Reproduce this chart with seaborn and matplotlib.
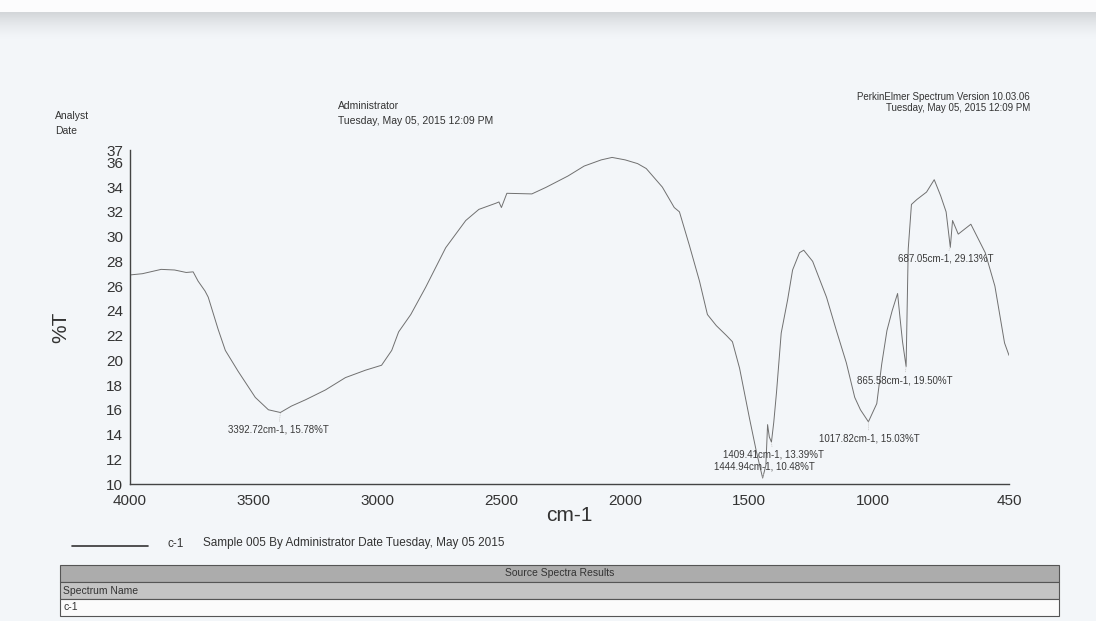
import matplotlib
matplotlib.use("Agg")
import matplotlib.pyplot as plt
from matplotlib.patches import Rectangle
from matplotlib.colors import to_rgb
import seaborn as sns
import pandas as pd
import numpy as np

# spectrum (cm-1, %T)
wavenumber = [
    4000, 3950, 3874, 3820, 3773, 3745, 3725, 3697, 3684, 3644, 3615, 3563,
    3494, 3441, 3392.72, 3348, 3292, 3211, 3130, 3049, 2984, 2943, 2915, 2866,
    2806, 2725, 2644, 2591, 2522, 2510, 2500, 2478, 2377, 2320, 2231, 2166,
    2097, 2053, 2000, 1950, 1915, 1850, 1802, 1781, 1741, 1700, 1668, 1632,
    1591, 1567, 1538, 1498, 1470, 1444.94, 1432, 1425, 1418, 1409.41, 1400,
    1389, 1370, 1344, 1324, 1296, 1279, 1243, 1187, 1147, 1107, 1073, 1050,
    1017.82, 984, 964, 943, 922, 900, 890, 880, 865.58, 857, 844, 822, 783,
    752, 726, 704, 687.05, 678, 655, 604, 546, 507, 468, 450,
]
transmittance = [
    26.9, 27.0, 27.35, 27.3, 27.1, 27.15, 26.4, 25.6, 25.1, 22.5, 20.8, 19.1,
    17.0, 16.0, 15.78, 16.3, 16.8, 17.6, 18.6, 19.2, 19.6, 20.8, 22.3, 23.7,
    25.9, 29.1, 31.3, 32.2, 32.7, 32.8, 32.35, 33.5, 33.45, 33.98, 34.9, 35.7,
    36.2, 36.4, 36.2, 35.9, 35.5, 34.0, 32.35, 32.0, 29.3, 26.4, 23.7, 22.8,
    22.0, 21.5, 19.35, 15.3, 12.6, 10.48, 11.5, 14.8, 13.8, 13.39, 15.0,
    17.4, 22.2, 24.9, 27.3, 28.7, 28.9, 28.0, 25.1, 22.4, 19.8, 17.0, 16.0,
    15.03, 16.5, 19.7, 22.4, 24.0, 25.4, 23.4, 21.5, 19.50, 29.0, 32.6, 33.0, 33.6,
    34.6, 33.3, 32.0, 29.13, 31.3, 30.2, 31.0, 28.7, 26.0, 21.4, 20.4,
]

# peak labels: (peak wn, peak %T, label left wn, label %T)
peak_wn = [3392.72, 1409.41, 1444.94, 1017.82, 865.58, 687.05]
peak_t = [15.78, 13.39, 10.48, 15.03, 19.50, 29.13]
label_wn = [3603, 1607, 1640, 1219, 1065, 899]
label_t = [14.4, 12.35, 11.45, 13.7, 18.4, 28.2]

x_ticks = [4000, 3500, 3000, 2500, 2000, 1500, 1000, 450]
y_ticks = [10, 12, 14, 16, 18, 20, 22, 24, 26, 28, 30, 32, 34, 36, 37]

W, H = 1096, 621

sns.set_style("white")
plt.rcParams["font.family"] = ["Liberation Sans", "DejaVu Sans"]

paper = "#f3f6f9"
fig = plt.figure(figsize=(W / 100, H / 100), dpi=100, facecolor=paper)

# scanner shadow along the top edge: white strip, then a soft grey fade
band = 40
shade = fig.add_axes([0, 1 - band / H, 1, band / H])
t = np.zeros(band)
t[12:] = np.linspace(1, 0, band - 12) ** 1.5
top_rgb = np.array(to_rgb("#d3d6d9"))
pap_rgb = np.array(to_rgb(paper))
img = pap_rgb + t[:, None] * (top_rgb - pap_rgb)
img[:12] = to_rgb("#fcfcfd")
shade.imshow(img[:, None, :], aspect="auto", extent=[0, 1, 0, 1])
shade.set_axis_off()

ax = fig.add_axes([130 / W, 1 - 484 / H, 879 / W, 334 / H])
ax.set_facecolor("none")

df = pd.DataFrame({"cm-1": wavenumber, "%T": transmittance})
sns.lineplot(data=df, x="cm-1", y="%T", ax=ax, sort=False, estimator=None,
             color="#707070", linewidth=0.7)

ax.set_xlim(4000, 450)
ax.set_ylim(10, 37)
ax.set_xticks(x_ticks)
ax.set_xticks([500], minor=True)
ax.set_yticks(y_ticks)
ax.tick_params(axis="x", direction="in", length=5, width=0.9, pad=7,
               labelsize=11, colors="#333333")
ax.tick_params(axis="x", which="minor", direction="in", length=5, width=0.9)
ax.tick_params(axis="y", direction="out", length=4, width=0.9, pad=1,
               labelsize=11, colors="#333333")
for s in ["top", "right"]:
    ax.spines[s].set_visible(False)
for s in ["left", "bottom"]:
    ax.spines[s].set_color("#444444")
    ax.spines[s].set_linewidth(1.0)

ax.set_xlabel("cm-1", fontsize=15, color="#333333")
ax.xaxis.set_label_coords(0.5, -0.065)
ax.set_ylabel("%T", fontsize=15, color="#333333")
ax.yaxis.set_label_coords(-0.068, 0.47)

for pw, pt, lw_, lt in zip(peak_wn, peak_t, label_wn, label_t):
    ax.annotate(f"{pw:.2f}cm-1, {pt:.2f}%T", xy=(pw, pt), xytext=(lw_, lt),
                textcoords="data", ha="left", va="center", fontsize=7,
                color="#3a3a3a",
                arrowprops=dict(arrowstyle="-", color="#c4c4c4", lw=0.5,
                                shrinkA=0, shrinkB=0, linestyle=":"))

# page header
def ftext(x, y, s, **kw):
    fig.text(x / W, 1 - y / H, s, va="center", color="#333333", **kw)

ftext(1030, 97, "PerkinElmer Spectrum Version 10.03.06", ha="right", fontsize=7)
ftext(1030, 108, "Tuesday, May 05, 2015 12:09 PM", ha="right", fontsize=7)
ftext(55, 116, "Analyst", ha="left", fontsize=7.5)
ftext(55, 131, "Date", ha="left", fontsize=7.5)
ftext(338, 106, "Administrator", ha="left", fontsize=7.5)
ftext(338, 121, "Tuesday, May 05, 2015 12:09 PM", ha="left", fontsize=7.5)

# legend line under the plot
fig.add_artist(plt.Line2D([72 / W, 148 / W], [1 - 546 / H, 1 - 546 / H],
                          color="#333333", lw=1.2))
ftext(168, 544, "c-1", ha="left", fontsize=8.5)
ftext(203, 543, "Sample 005 By Administrator Date Tuesday, May 05 2015",
      ha="left", fontsize=8.5)

# results table
tx0, tx1 = 60, 1059
rows = [(565, 582, "#acacac"), (582, 599, "#c4c4c4"), (599, 616, "#fbfbfb")]
for y0, y1, c in rows:
    fig.add_artist(Rectangle((tx0 / W, 1 - y1 / H), (tx1 - tx0) / W,
                             (y1 - y0) / H, transform=fig.transFigure,
                             facecolor=c, edgecolor="#555555", lw=0.8))
ftext((tx0 + tx1) / 2, 573.5, "Source Spectra Results", ha="center", fontsize=7.5)
ftext(63, 590.5, "Spectrum Name", ha="left", fontsize=7.5)
ftext(63, 607.5, "c-1", ha="left", fontsize=7.5)

fig.savefig("out.png", dpi=100, facecolor=paper)
